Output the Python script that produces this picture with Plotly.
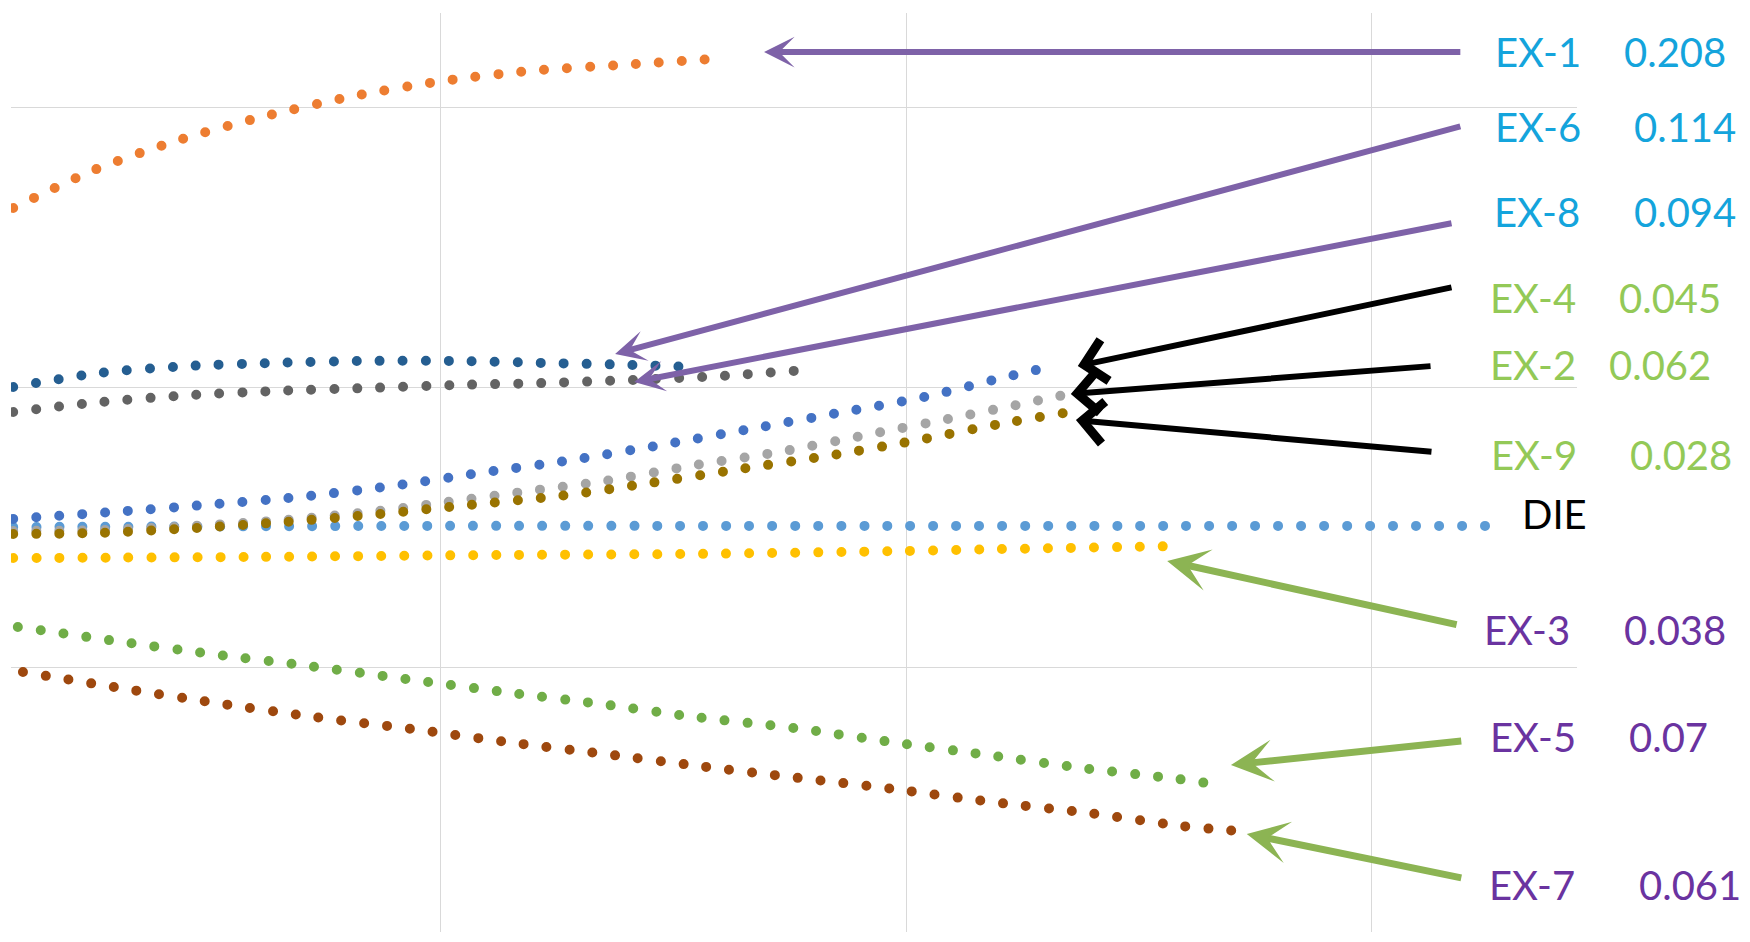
import plotly.graph_objects as go

# ---------------- data ----------------
series_names = ["DIE", "EX-1", "EX-2", "EX-3", "EX-4", "EX-5", "EX-6", "EX-7", "EX-8", "EX-9"]
series_values = {"EX-1": "0.208", "EX-6": "0.114", "EX-8": "0.094", "EX-4": "0.045",
                 "EX-2": "0.062", "EX-9": "0.028", "EX-3": "0.038", "EX-5": "0.07",
                 "EX-7": "0.061"}

die_x = [0.81, 5.0, 10.0, 15.0, 20.0, 25.0, 32.75]
die_y = [0.1500, 0.1502, 0.1504, 0.1504, 0.1504, 0.1504, 0.1504]

ex1_x = [0.81, 2.55, 4.37, 6.24, 8.13, 10.04, 11.93, 13.85, 15.80]
ex1_y = [0.2639, 0.2775, 0.2882, 0.2968, 0.3039, 0.3093, 0.3129, 0.3150, 0.3171]

ex2_x = [0.81, 2.70, 4.69, 6.65, 8.65, 10.13, 12.06, 13.52, 15.46, 17.37, 19.24, 21.11, 22.46, 23.38]
ex2_y = [0.1486, 0.1489, 0.1504, 0.1525, 0.1557, 0.1589, 0.1632, 0.1664, 0.1721, 0.1771, 0.1832, 0.1893, 0.1939, 0.1971]

ex3_x = [0.81, 5.90, 11.27, 15.56, 19.86, 22.01, 25.92]
ex3_y = [0.1389, 0.1393, 0.1400, 0.1404, 0.1414, 0.1421, 0.1432]

ex4_x = [0.81, 2.98, 4.95, 6.93, 8.93, 10.84, 12.79, 14.73, 16.64, 18.53, 20.38, 22.14, 23.17]
ex4_y = [0.1529, 0.1554, 0.1579, 0.1607, 0.1646, 0.1693, 0.1739, 0.1793, 0.1850, 0.1907, 0.1964, 0.2036, 0.2075]

ex5_x = [0.91, 3.00, 5.08, 7.14, 9.25, 11.33, 13.42, 15.48, 17.58, 19.67, 21.73, 23.77, 25.83, 26.86]
ex5_y = [0.1143, 0.1093, 0.1046, 0.1004, 0.0957, 0.0911, 0.0868, 0.0821, 0.0782, 0.0732, 0.0686, 0.0639, 0.0600, 0.0575]

ex6_x = [0.81, 2.67, 4.57, 6.43, 8.37, 10.28, 12.17, 14.08, 15.52]
ex6_y = [0.2000, 0.2050, 0.2075, 0.2086, 0.2093, 0.2093, 0.2086, 0.2079, 0.2071]

ex7_x = [1.02, 3.10, 5.19, 7.29, 9.36, 11.42, 13.52, 15.56, 17.67, 19.73, 21.82, 23.90, 25.92, 27.38]
ex7_y = [0.0982, 0.0925, 0.0871, 0.0821, 0.0779, 0.0732, 0.0689, 0.0646, 0.0604, 0.0564, 0.0518, 0.0479, 0.0432, 0.0411]

ex8_x = [0.81, 2.67, 4.59, 6.48, 8.37, 10.28, 12.17, 14.08, 15.95, 17.86]
ex8_y = [0.1911, 0.1946, 0.1971, 0.1986, 0.1996, 0.2007, 0.2014, 0.2025, 0.2039, 0.2061]

ex9_x = [0.81, 2.70, 4.69, 6.65, 8.65, 10.62, 12.56, 14.49, 16.42, 18.31, 20.14, 22.01, 23.38]
ex9_y = [0.1475, 0.1479, 0.1496, 0.1518, 0.1546, 0.1579, 0.1611, 0.1657, 0.1707, 0.1754, 0.1807, 0.1868, 0.1907]

series_data = {
    "DIE": (die_x, die_y), "EX-1": (ex1_x, ex1_y), "EX-2": (ex2_x, ex2_y),
    "EX-3": (ex3_x, ex3_y), "EX-4": (ex4_x, ex4_y), "EX-5": (ex5_x, ex5_y),
    "EX-6": (ex6_x, ex6_y), "EX-7": (ex7_x, ex7_y), "EX-8": (ex8_x, ex8_y),
    "EX-9": (ex9_x, ex9_y),
}

# ---------------- styles ----------------
series_colors = {"DIE": "#5B9BD5", "EX-1": "#ED7D31", "EX-2": "#A5A5A5", "EX-3": "#FFC000",
                 "EX-4": "#4472C4", "EX-5": "#70AD47", "EX-6": "#255E91", "EX-7": "#9E480E",
                 "EX-8": "#636363", "EX-9": "#997300"}

PURPLE_ARROW = "#7E62A8"
GREEN_ARROW = "#8CB453"
BLACK_ARROW = "#000000"
BLUE_TXT = "#14A4DC"
GREEN_TXT = "#93C957"
PURPLE_TXT = "#6A33A0"

# arrow annotations: tip (x, y) and tail (ax, ay) in data units
arrows = [
    ("EX-1", 16.94, 0.3196, 31.93, 0.3196, PURPLE_ARROW, 3, 6, 0.85),
    ("EX-6", 13.74, 0.2118, 31.93, 0.2932, PURPLE_ARROW, 3, 6, 0.85),
    ("EX-8", 14.15, 0.2018, 31.74, 0.2586, PURPLE_ARROW, 3, 6, 0.85),
    ("EX-4", 23.68, 0.2075, 31.74, 0.2357, BLACK_ARROW, 4, 6, 1.35),
    ("EX-2", 23.53, 0.1975, 31.29, 0.2075, BLACK_ARROW, 4, 6, 1.35),
    ("EX-9", 23.64, 0.1882, 31.31, 0.1768, BLACK_ARROW, 4, 6, 1.35),
    ("EX-3", 25.60, 0.1379, 31.85, 0.1150, GREEN_ARROW, 3, 7, 1.0),
    ("EX-5", 26.97, 0.0650, 31.95, 0.0736, GREEN_ARROW, 3, 7, 1.0),
    ("EX-7", 27.31, 0.0404, 31.95, 0.0246, GREEN_ARROW, 3, 7, 1.0),
]

# label placement (paper coords): name-x, value-x, y, colour
label_pos = {
    "EX-1": (0.9464, 1.0287, 0.9576, BLUE_TXT),
    "EX-6": (0.9464, 1.0351, 0.8760, BLUE_TXT),
    "EX-8": (0.9457, 1.0351, 0.7835, BLUE_TXT),
    "EX-4": (0.9432, 1.0255, 0.6899, GREEN_TXT),
    "EX-2": (0.9432, 1.0192, 0.6170, GREEN_TXT),
    "EX-9": (0.9438, 1.0326, 0.5190, GREEN_TXT),
    "DIE":  (0.9636, None, 0.4548, "#000000"),
    "EX-3": (0.9393, 1.0287, 0.3286, PURPLE_TXT),
    "EX-5": (0.9432, 1.0319, 0.2122, PURPLE_TXT),
    "EX-7": (0.9425, 1.0383, 0.0511, PURPLE_TXT),
}

FONT = "Lato, 'Open Sans', sans-serif"
FSIZE = 40

fig = go.Figure()
for name in series_names:
    xs, ys = series_data[name]
    fig.add_trace(go.Scatter(
        x=xs, y=ys, name=name, mode="lines",
        line=dict(color=series_colors[name], width=10, dash="0px,23px",
                  shape="spline", smoothing=0.8),
        hoverinfo="skip", showlegend=False,
    ))

annotations = []
for name, x, y, ax, ay, col, head, w, sz in arrows:
    annotations.append(dict(
        x=x, y=y, ax=ax, ay=ay, xref="x", yref="y", axref="x", ayref="y",
        text="", showarrow=True, arrowhead=head, arrowwidth=w, arrowsize=sz,
        arrowcolor=col,
    ))

for name, (nx, vx, py, col) in label_pos.items():
    annotations.append(dict(
        x=nx, y=py, xref="paper", yref="paper", text=name, showarrow=False,
        xanchor="left", yanchor="middle",
        font=dict(family=FONT, size=FSIZE, color=col),
    ))
    if vx is not None:
        annotations.append(dict(
            x=vx, y=py, xref="paper", yref="paper", text=series_values[name],
            showarrow=False, xanchor="left", yanchor="middle",
            font=dict(family=FONT, size=FSIZE, color=col),
        ))

fig.update_layout(
    width=1750, height=942,
    margin=dict(l=11, r=173, t=13, b=10),
    paper_bgcolor="white", plot_bgcolor="white",
    showlegend=False,
    annotations=annotations,
    xaxis=dict(range=[0.763, 34.404], dtick=10, tick0=0, showgrid=True,
               gridcolor="#D9D9D9", gridwidth=1.3, zeroline=False,
               showticklabels=False, ticks="", showline=False),
    yaxis=dict(range=[0.00536, 0.33357], dtick=0.1, tick0=0, showgrid=True,
               gridcolor="#D9D9D9", gridwidth=1.3, zeroline=False,
               showticklabels=False, ticks="", showline=False),
)

post = """
var st = document.createElement('style');
st.innerHTML = 'body{margin:0;padding:0;overflow:hidden;} .scatterlayer .js-line{stroke-linecap:round !important;}';
document.head.appendChild(st);
"""

fig.write_html("out.html", post_script=post, config={"displayModeBar": False})
